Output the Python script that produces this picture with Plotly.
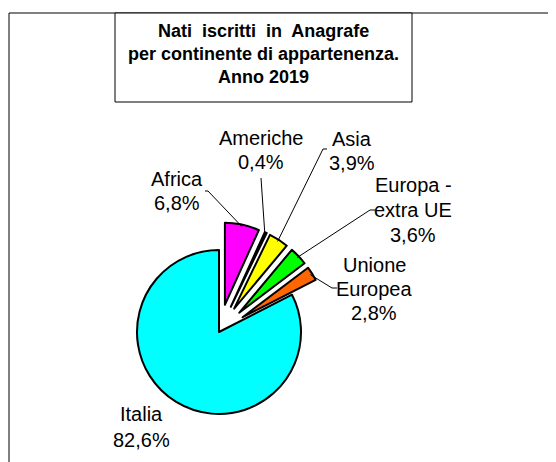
import math
import plotly.graph_objects as go

# data
labels = ["Africa", "Americhe", "Asia", "Europa - extra UE", "Unione Europea", "Italia"]
values = [6.8, 0.4, 3.9, 3.6, 2.8, 82.6]
colors = ["#FF00FF", "#000080", "#FFFF00", "#00FF00", "#FF6600", "#00FFFF"]
label_lines = [["Africa", "6,8%"],
               ["Americhe", "0,4%"],
               ["Asia", "3,9%"],
               ["Europa -", "extra UE", "3,6%"],
               ["Unione", "Europea", "2,8%"],
               ["Italia", "82,6%"]]
title_lines = ["Nati  iscritti  in  Anagrafe", "per continente di appartenenza.", "Anno 2019"]

W, H = 556, 462
OFF = 8                 # page body margin in the browser
CX, CY = 219, 332       # pie centre (px on the page)
R = 82                  # pie radius (px)
PULL = 0.34
FONT = "Liberation Sans, Arial, sans-serif"


def px(x):
    return (x - OFF) / W


def py(y):
    return 1 - (y - OFF) / H


pulls = [PULL if l != "Italia" else 0 for l in labels]
half = R * (1 + PULL)

fig = go.Figure(go.Pie(
    labels=labels, values=values, sort=False, direction="clockwise", rotation=0,
    pull=pulls, textinfo="none", hoverinfo="label+percent",
    marker=dict(colors=colors, line=dict(color="black", width=2)),
    domain=dict(x=[px(CX - half), px(CX + half)], y=[py(CY + half), py(CY - half)]),
))

# label positions: (centre x, first line y, line spacing) and leader start
label_pos = [(177, 179, 24), (261, 138, 24), (352, 139, 24),
             (413, 185, 25), (374, 265, 24), (141, 414, 26)]
leader_start = [[(205, 191), (208, 191)], [(261, 178)], [(327, 149), (323, 149)],
                [(375, 210), (370, 210)], [(337, 288), (332, 288)], None]

annotations = []
shapes = []
total = sum(values)
cum = 0
for i, v in enumerate(values):
    mid = (cum + v / 2) / total * 2 * math.pi
    cum += v
    x0, y0, dy = label_pos[i]
    for j, line in enumerate(label_lines[i]):
        annotations.append(dict(x=px(x0), y=py(y0 + j * dy), xref="paper", yref="paper",
                                text=line, showarrow=False, xanchor="center", yanchor="middle",
                                font=dict(family=FONT, size=20, color="black")))
    if leader_start[i]:
        dist = R * (1 + pulls[i]) - 2
        ex = CX + dist * math.sin(mid)
        ey = CY - dist * math.cos(mid)
        pts = leader_start[i] + [(ex, ey)]
        path = "M " + " L ".join(f"{px(a)},{py(b)}" for a, b in pts)
        shapes.append(dict(type="path", path=path, xref="paper", yref="paper",
                           line=dict(color="black", width=1)))

# outer frame and title box
shapes.append(dict(type="rect", xref="paper", yref="paper", x0=px(9), x1=px(W + 40),
                   y0=py(H + 40), y1=py(13), line=dict(color="black", width=1)))
shapes.append(dict(type="rect", xref="paper", yref="paper", x0=px(115), x1=px(412),
                   y0=py(102), y1=py(13), line=dict(color="black", width=1),
                   fillcolor="white"))

for k, t in enumerate(title_lines):
    annotations.append(dict(x=px(263.5), y=py(31 + k * 23), xref="paper", yref="paper",
                            text=f"<b>{t}</b>", showarrow=False, xanchor="center", yanchor="middle",
                            font=dict(family=FONT, size=18, color="black")))

fig.update_layout(width=W, height=H, margin=dict(l=0, r=0, t=0, b=0),
                  paper_bgcolor="white", plot_bgcolor="white", showlegend=False,
                  annotations=annotations, shapes=shapes)

fig.write_html("out.html")
